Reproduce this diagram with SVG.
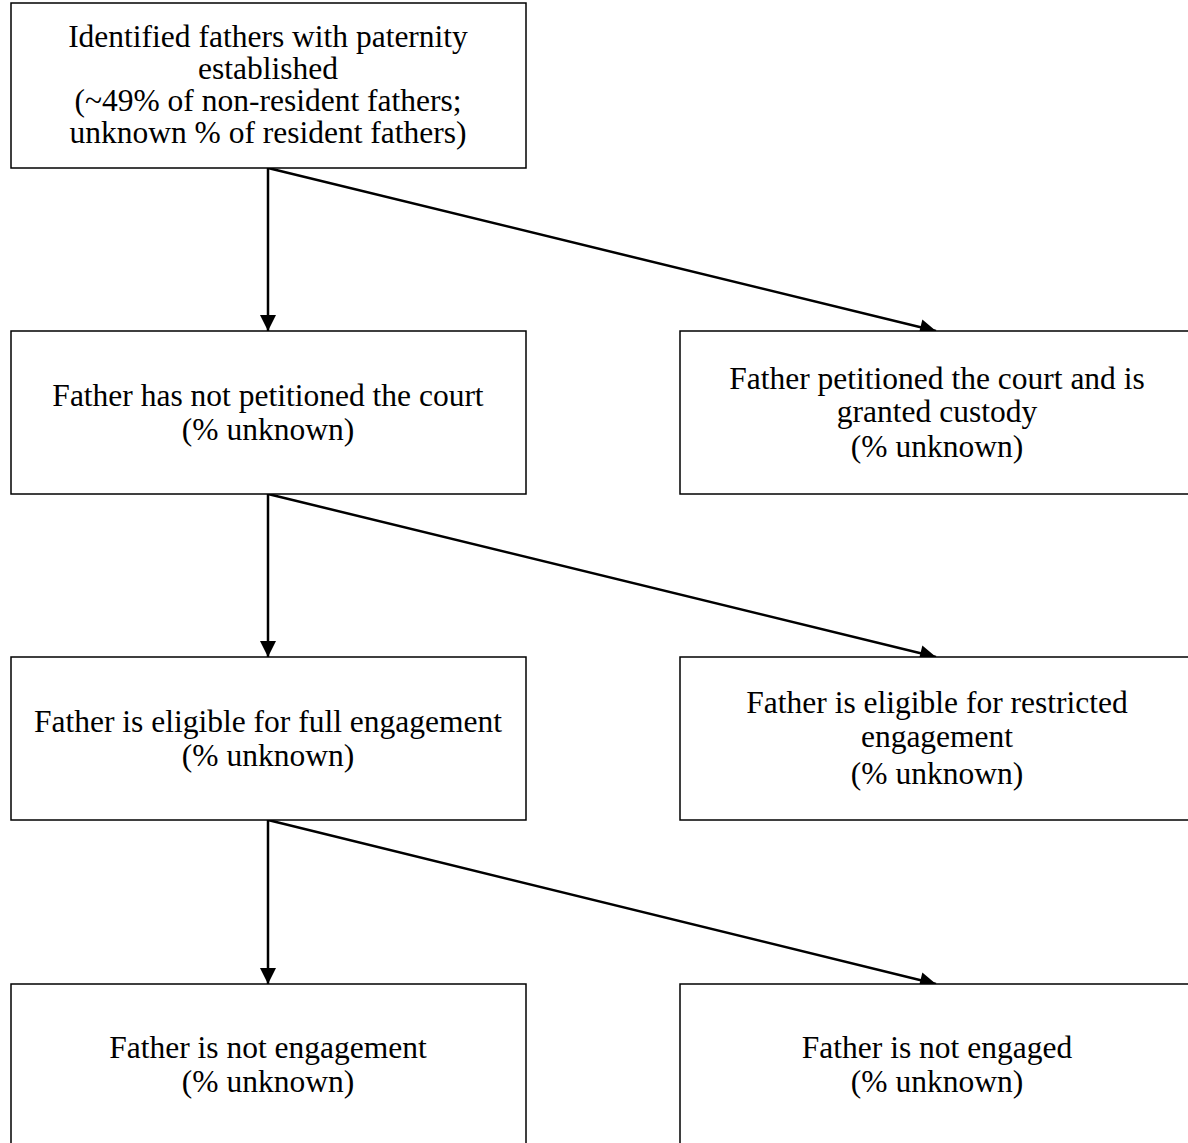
<svg xmlns="http://www.w3.org/2000/svg" width="1188" height="1143" viewBox="0 0 1188 1143">
  <style>
    .box { fill: #ffffff; stroke: #000000; stroke-width: 1.5; }
    .lbl { font-family: 'Liberation Serif', 'Times New Roman', Times, serif; font-size: 31.5px; fill: #000000; text-anchor: middle; }
    .edge { stroke: #000000; stroke-width: 2.5; fill: none; marker-end: url(#arrow); }
  </style>
  <defs>
    <marker id="arrow" viewBox="0 0 10 10" refX="10" refY="5" markerWidth="17" markerHeight="16" markerUnits="userSpaceOnUse" orient="auto">
      <path d="M0,0 L10,5 L0,10 z" fill="#000000"/>
    </marker>
  </defs>
  <rect width="1188" height="1143" fill="#ffffff"/>

  <g id="connectors">
    <line class="edge" x1="268" y1="168" x2="268" y2="331"/>
    <line class="edge" x1="268" y1="168" x2="936" y2="331"/>
    <line class="edge" x1="268" y1="494" x2="268" y2="657"/>
    <line class="edge" x1="268" y1="494" x2="936" y2="657"/>
    <line class="edge" x1="268" y1="820" x2="268" y2="984"/>
    <line class="edge" x1="268" y1="820" x2="936" y2="984"/>
  </g>

  <g id="identified-fathers">
    <rect class="box" x="11" y="3" width="515" height="165"/>
    <text class="lbl" x="268" y="47">Identified fathers with paternity</text>
    <text class="lbl" x="268" y="79">established</text>
    <text class="lbl" x="268" y="111">(~49% of non-resident fathers;</text>
    <text class="lbl" x="268" y="143">unknown % of resident fathers)</text>
  </g>

  <g id="not-petitioned">
    <rect class="box" x="11" y="331" width="515" height="163"/>
    <text class="lbl" x="268" y="406">Father has not petitioned the court</text>
    <text class="lbl" x="268" y="440">(% unknown)</text>
  </g>

  <g id="granted-custody">
    <rect class="box" x="680" y="331" width="520" height="163"/>
    <text class="lbl" x="937" y="389">Father petitioned the court and is</text>
    <text class="lbl" x="937" y="422">granted custody</text>
    <text class="lbl" x="937" y="457">(% unknown)</text>
  </g>

  <g id="full-engagement">
    <rect class="box" x="11" y="657" width="515" height="163"/>
    <text class="lbl" x="268" y="732">Father is eligible for full engagement</text>
    <text class="lbl" x="268" y="766">(% unknown)</text>
  </g>

  <g id="restricted-engagement">
    <rect class="box" x="680" y="657" width="520" height="163"/>
    <text class="lbl" x="937" y="713">Father is eligible for restricted</text>
    <text class="lbl" x="937" y="747">engagement</text>
    <text class="lbl" x="937" y="784">(% unknown)</text>
  </g>

  <g id="not-engagement">
    <rect class="box" x="11" y="984" width="515" height="170"/>
    <text class="lbl" x="268" y="1058">Father is not engagement</text>
    <text class="lbl" x="268" y="1092">(% unknown)</text>
  </g>

  <g id="not-engaged">
    <rect class="box" x="680" y="984" width="520" height="170"/>
    <text class="lbl" x="937" y="1058">Father is not engaged</text>
    <text class="lbl" x="937" y="1092">(% unknown)</text>
  </g>
</svg>
